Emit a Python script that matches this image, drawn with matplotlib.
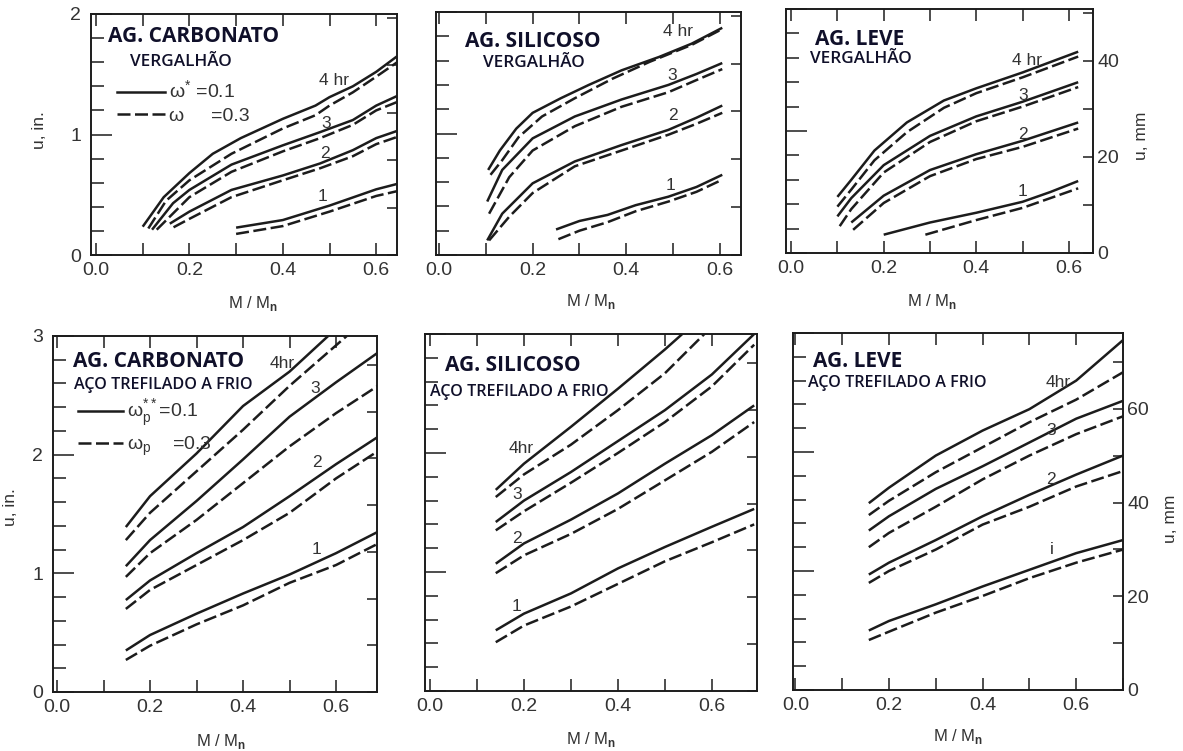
import matplotlib
matplotlib.use('Agg')
import matplotlib.pyplot as plt
from matplotlib.ticker import MultipleLocator, NullFormatter
from matplotlib.lines import Line2D

W, H = 1183, 751
MM_PER_IN = 25.4

# ---------------- data: deflection u (in.) vs M/Mn ----------------
# top row, reinforcing bars (vergalhão)
carb_bar_solid = {
    '4': ([0.10, 0.145, 0.20, 0.25, 0.31, 0.40, 0.47, 0.50, 0.55, 0.60, 0.645],
          [0.235, 0.48, 0.68, 0.84, 0.97, 1.13, 1.24, 1.31, 1.40, 1.52, 1.65]),
    '3': ([0.12, 0.165, 0.20, 0.29, 0.40, 0.48, 0.55, 0.60, 0.645],
          [0.21, 0.43, 0.54, 0.75, 0.91, 1.02, 1.12, 1.24, 1.32]),
    '2': ([0.158, 0.20, 0.29, 0.40, 0.48, 0.55, 0.60, 0.645],
          [0.26, 0.36, 0.54, 0.66, 0.76, 0.87, 0.97, 1.03]),
    '1': ([0.30, 0.40, 0.50, 0.60, 0.645],
          [0.227, 0.29, 0.41, 0.545, 0.59]),
}
carb_bar_dashed = {
    '4': ([0.112, 0.15, 0.20, 0.29, 0.40, 0.47, 0.50, 0.55, 0.60, 0.645],
          [0.22, 0.45, 0.62, 0.84, 1.05, 1.16, 1.24, 1.35, 1.48, 1.60]),
    '3': ([0.13, 0.20, 0.29, 0.40, 0.48, 0.55, 0.60, 0.645],
          [0.21, 0.48, 0.69, 0.86, 0.97, 1.08, 1.20, 1.27]),
    '2': ([0.166, 0.20, 0.29, 0.40, 0.48, 0.55, 0.60, 0.645],
          [0.23, 0.30, 0.48, 0.62, 0.72, 0.82, 0.92, 0.98]),
    '1': ([0.30, 0.40, 0.50, 0.60, 0.645],
          [0.175, 0.24, 0.36, 0.49, 0.53]),
}

sil_bar_solid = {
    '4': ([0.105, 0.13, 0.165, 0.20, 0.26, 0.32, 0.39, 0.47, 0.54, 0.605],
          [0.70, 0.86, 1.04, 1.17, 1.29, 1.40, 1.52, 1.63, 1.74, 1.87]),
    '3': ([0.103, 0.135, 0.20, 0.29, 0.39, 0.49, 0.55, 0.605],
          [0.44, 0.70, 0.96, 1.14, 1.28, 1.40, 1.49, 1.58]),
    '2': ([0.103, 0.135, 0.20, 0.29, 0.39, 0.49, 0.55, 0.605],
          [0.12, 0.34, 0.59, 0.77, 0.905, 1.03, 1.13, 1.23]),
    '1': ([0.25, 0.30, 0.36, 0.42, 0.49, 0.55, 0.605],
          [0.21, 0.28, 0.33, 0.41, 0.48, 0.56, 0.66]),
}
sil_bar_dashed = {
    '4': ([0.11, 0.135, 0.17, 0.22, 0.29, 0.37, 0.45, 0.54, 0.605],
          [0.66, 0.78, 0.97, 1.14, 1.29, 1.45, 1.59, 1.73, 1.86]),
    '3': ([0.107, 0.15, 0.20, 0.29, 0.39, 0.49, 0.55, 0.605],
          [0.34, 0.64, 0.86, 1.06, 1.22, 1.34, 1.44, 1.53]),
    '2': ([0.107, 0.15, 0.20, 0.29, 0.39, 0.49, 0.55, 0.605],
          [0.12, 0.315, 0.51, 0.73, 0.86, 0.99, 1.08, 1.17]),
    '1': ([0.255, 0.30, 0.36, 0.42, 0.49, 0.55, 0.605],
          [0.13, 0.20, 0.27, 0.36, 0.44, 0.52, 0.62]),
}

lev_bar_solid = {
    '4': ([0.10, 0.13, 0.18, 0.25, 0.33, 0.40, 0.50, 0.62],
          [0.46, 0.60, 0.84, 1.07, 1.25, 1.35, 1.48, 1.65]),
    '3': ([0.10, 0.13, 0.20, 0.30, 0.40, 0.50, 0.62],
          [0.30, 0.45, 0.72, 0.96, 1.12, 1.24, 1.40]),
    '2': ([0.13, 0.20, 0.30, 0.40, 0.50, 0.62],
          [0.25, 0.47, 0.68, 0.81, 0.92, 1.07]),
    '1': ([0.20, 0.30, 0.40, 0.50, 0.56, 0.62],
          [0.15, 0.25, 0.33, 0.42, 0.50, 0.59]),
}
lev_bar_dashed = {
    '4': ([0.10, 0.13, 0.18, 0.25, 0.33, 0.40, 0.50, 0.62],
          [0.38, 0.52, 0.76, 0.99, 1.19, 1.31, 1.44, 1.61]),
    '3': ([0.105, 0.13, 0.20, 0.30, 0.40, 0.50, 0.62],
          [0.22, 0.36, 0.66, 0.91, 1.08, 1.20, 1.36]),
    '2': ([0.134, 0.20, 0.30, 0.40, 0.50, 0.62],
          [0.19, 0.41, 0.63, 0.77, 0.87, 1.02]),
    '1': ([0.29, 0.40, 0.50, 0.56, 0.62],
          [0.15, 0.27, 0.37, 0.45, 0.53]),
}

# bottom row, cold-drawn prestressing steel (aço trefilado a frio)
mn_grid = [0.148, 0.20, 0.30, 0.40, 0.50, 0.60, 0.69]

carb_wire_solid = {
    '4': ([0.148, 0.20, 0.30, 0.40, 0.50, 0.583], [1.39, 1.65, 2.01, 2.41, 2.70, 3.00]),
    '3': (mn_grid, [1.06, 1.28, 1.61, 1.96, 2.32, 2.61, 2.86]),
    '2': (mn_grid, [0.775, 0.94, 1.17, 1.39, 1.65, 1.92, 2.15]),
    '1': (mn_grid, [0.35, 0.48, 0.66, 0.83, 0.99, 1.17, 1.35]),
}
carb_wire_dashed = {
    '4': ([0.148, 0.20, 0.30, 0.40, 0.50, 0.623], [1.28, 1.51, 1.86, 2.21, 2.58, 3.00]),
    '3': (mn_grid, [0.97, 1.17, 1.45, 1.76, 2.07, 2.35, 2.58]),
    '2': (mn_grid, [0.70, 0.86, 1.07, 1.28, 1.51, 1.80, 2.03]),
    '1': (mn_grid, [0.27, 0.39, 0.57, 0.73, 0.92, 1.07, 1.25]),
}

sil_grid = [0.14, 0.20, 0.30, 0.40, 0.50, 0.60, 0.69]

sil_wire_solid = {
    '4': ([0.14, 0.20, 0.30, 0.40, 0.50, 0.537], [1.69, 1.91, 2.22, 2.54, 2.87, 3.00]),
    '3': (sil_grid, [1.42, 1.60, 1.84, 2.10, 2.36, 2.66, 3.00]),
    '2': (sil_grid, [1.07, 1.24, 1.44, 1.66, 1.91, 2.15, 2.40]),
    '1': (sil_grid, [0.51, 0.65, 0.82, 1.03, 1.21, 1.38, 1.53]),
}
sil_wire_dashed = {
    '4': ([0.14, 0.20, 0.30, 0.40, 0.50, 0.584], [1.63, 1.82, 2.07, 2.36, 2.67, 3.00]),
    '3': (sil_grid, [1.35, 1.51, 1.75, 2.00, 2.26, 2.56, 2.91]),
    '2': (sil_grid, [0.99, 1.14, 1.32, 1.53, 1.77, 2.01, 2.26]),
    '1': (sil_grid, [0.41, 0.55, 0.71, 0.90, 1.09, 1.25, 1.40]),
}

lev_grid = [0.157, 0.20, 0.30, 0.40, 0.50, 0.60, 0.70]

lev_wire_solid = {
    '4': (lev_grid, [1.57, 1.70, 1.97, 2.18, 2.36, 2.60, 2.94]),
    '3': (lev_grid, [1.34, 1.46, 1.69, 1.88, 2.08, 2.28, 2.43]),
    '2': (lev_grid, [0.97, 1.07, 1.26, 1.46, 1.64, 1.81, 1.97]),
    '1': (lev_grid, [0.50, 0.58, 0.72, 0.87, 1.01, 1.15, 1.26]),
}
lev_wire_dashed = {
    '4': (lev_grid, [1.47, 1.59, 1.83, 2.04, 2.25, 2.44, 2.67]),
    '3': (lev_grid, [1.20, 1.32, 1.54, 1.77, 1.97, 2.15, 2.30]),
    '2': (lev_grid, [0.90, 1.00, 1.18, 1.39, 1.54, 1.71, 1.84]),
    '1': (lev_grid, [0.42, 0.49, 0.65, 0.79, 0.94, 1.07, 1.18]),
}

# curve labels (text, x, y) in data units
carb_bar_labels = [('4 hr', 0.51, 1.45), ('3', 0.493, 1.09), ('2', 0.49, 0.845), ('1', 0.485, 0.485)]
sil_bar_labels = [('4 hr', 0.511, 1.84), ('3', 0.497, 1.48), ('2', 0.499, 1.15), ('1', 0.495, 0.57)]
lev_bar_labels = [('4 hr', 0.51, 1.58), ('3', 0.501, 1.29), ('2', 0.501, 0.97), ('1', 0.50, 0.505)]
carb_wire_labels = [('4hr', 0.485, 2.77), ('3', 0.555, 2.56), ('2', 0.558, 1.93), ('1', 0.558, 1.20)]
sil_wire_labels = [('4hr', 0.195, 2.04), ('3', 0.185, 1.65), ('2', 0.185, 1.28), ('1', 0.185, 0.71)]
lev_wire_labels = [('4hr', 0.561, 2.58), ('3', 0.547, 2.18), ('2', 0.547, 1.77), ('i', 0.547, 1.18)]

# ---------------- style ----------------
INK = '#1c1c1c'
TXT = '#333333'
TITLE_C = '#10102a'
FONT = ['Liberation Sans', 'DejaVu Sans']
TFONT = ['Open Sans', 'DejaVu Sans']
LW = 1.8
DASH = (0, (5.2, 1.8))

plt.rcParams['font.family'] = FONT
plt.rcParams['mathtext.fontset'] = 'custom'
plt.rcParams['mathtext.rm'] = 'Liberation Sans'
plt.rcParams['mathtext.bf'] = 'Liberation Sans:bold'


def px_rect(l, t, r, b):
    return [l / W, 1 - b / H, (r - l) / W, (b - t) / H]


panels = [
    dict(solid=carb_bar_solid, dashed=carb_bar_dashed, labels=carb_bar_labels,
         rect=px_rect(91, 14, 397, 255), xlim=(-0.0107, 0.6445), ytop=2,
         title='AG. CARBONATO', sub='VERGALHÃO', tpos=(0.056, 0.905), spos=(0.127, 0.80), subsize=12.3,
         left=True, right=False, xlab=(0.53, -0.20), ylab=-0.144,
         legend=('ω$^{\\mathregular{*}}$ =0.1', 'ω     =0.3'), lpos=(0.084, 0.633), hlen=2.5),
    dict(solid=sil_bar_solid, dashed=sil_bar_dashed, labels=sil_bar_labels,
         rect=px_rect(436, 12, 741, 255), xlim=(-0.0064, 0.645), ytop=2,
         title='AG. SILICOSO', sub='VERGALHÃO', tpos=(0.095, 0.877), spos=(0.154, 0.79), subsize=12.3,
         left=False, right=False, xlab=(0.51, -0.19)),
    dict(solid=lev_bar_solid, dashed=lev_bar_dashed, labels=lev_bar_labels,
         rect=px_rect(786, 9, 1093, 253), xlim=(-0.011, 0.652), ytop=2,
         title='AG. LEVE', sub='VERGALHÃO', tpos=(0.094, 0.877), spos=(0.078, 0.795), subsize=12.3,
         left=False, right=True, xlab=(0.475, -0.20), rlab=1.135),
    dict(solid=carb_wire_solid, dashed=carb_wire_dashed, labels=carb_wire_labels,
         rect=px_rect(53, 336, 377, 692), xlim=(-0.0086, 0.688), ytop=3,
         title='AG. CARBONATO', sub='AÇO TREFILADO A FRIO', tpos=(0.062, 0.927), spos=(0.065, 0.862),
         subsize=11.6, left=True, right=False, xlab=(0.52, -0.14), ylab=-0.108,
         legend=('ω$_{\\mathregular{p}}^{\\mathregular{**}}$=0.1', 'ω$_{\\mathregular{p}}$    =0.3'),
         lpos=(0.077, 0.742), hlen=2.3),
    dict(solid=sil_wire_solid, dashed=sil_wire_dashed, labels=sil_wire_labels,
         rect=px_rect(425, 334, 757, 691), xlim=(-0.0106, 0.696), ytop=3,
         title='AG. SILICOSO', sub='AÇO TREFILADO A FRIO', tpos=(0.06, 0.913), spos=(0.015, 0.838),
         subsize=11.6, left=False, right=False, xlab=(0.50, -0.137)),
    dict(solid=lev_wire_solid, dashed=lev_wire_dashed, labels=lev_wire_labels,
         rect=px_rect(793, 333, 1123, 690), xlim=(-0.005, 0.70), ytop=3,
         title='AG. LEVE', sub='AÇO TREFILADO A FRIO', tpos=(0.06, 0.919), spos=(0.045, 0.86),
         subsize=11.6, left=False, right=True, xlab=(0.50, -0.13), rlab=1.12),
]

fig = plt.figure(figsize=(W / 100, H / 100), dpi=100)

for p in panels:
    ax = fig.add_axes(p['rect'])
    for key, (xs, ys) in p['solid'].items():
        ax.plot(xs, ys, color=INK, lw=LW, solid_capstyle='butt', solid_joinstyle='round')
    for key, (xs, ys) in p['dashed'].items():
        ax.plot(xs, ys, color=INK, lw=LW, linestyle=DASH, dash_capstyle='butt')

    ax.set_xlim(*p['xlim'])
    ax.set_ylim(0, p['ytop'])

    ax.xaxis.set_major_locator(MultipleLocator(0.2))
    ax.xaxis.set_minor_locator(MultipleLocator(0.1))
    ax.xaxis.set_major_formatter(lambda v, pos: f'{v:.1f}')
    ax.tick_params(axis='x', which='both', direction='in', top=True, length=8.5,
                   width=1.1, color=INK, labelsize=14, labelcolor=TXT, pad=5)

    ax.yaxis.set_major_locator(MultipleLocator(1))
    ax.yaxis.set_minor_locator(MultipleLocator(0.2))
    ax.yaxis.set_major_formatter(lambda v, pos: f'{v:.0f}')
    ax.tick_params(axis='y', which='major', direction='in', length=15, width=1.1,
                   color=INK, labelsize=14, labelcolor=TXT, pad=7, right=False)
    ax.tick_params(axis='y', which='minor', direction='in', length=9.5, width=1.1,
                   color=INK, right=False)
    if not p['left']:
        ax.yaxis.set_major_formatter(NullFormatter())
    else:
        ax.set_ylabel('u, in.', fontsize=12.5, color=TXT)
        ax.yaxis.set_label_coords(p['ylab'], 0.52)

    for s in ax.spines.values():
        s.set_linewidth(1.4)
        s.set_color(INK)

    ax2 = ax.twinx()
    ax2.set_ylim(0, p['ytop'] * MM_PER_IN)
    ax2.yaxis.set_major_locator(MultipleLocator(20))
    ax2.yaxis.set_minor_locator(MultipleLocator(10))
    ax2.tick_params(axis='y', which='both', direction='in', length=7.5, width=1.1,
                    color=INK, labelsize=14, labelcolor=TXT, pad=3)
    for s in ax2.spines.values():
        s.set_visible(False)
    if p['right']:
        ax2.set_ylabel('u, mm', fontsize=12.5, color=TXT)
        ax2.yaxis.set_label_coords(p['rlab'], 0.48)
    else:
        ax2.yaxis.set_major_formatter(NullFormatter())

    ax.set_xlabel('M / M$_{\\mathbf{n}}$', fontsize=12, color=TXT)
    ax.xaxis.label.set_va('center')
    ax.xaxis.set_label_coords(*p['xlab'])

    for txt, lx, ly in p['labels']:
        ax.text(lx, ly, txt, fontsize=12.5, color=TXT, ha='center', va='center')

    ax.text(p['tpos'][0], p['tpos'][1], p['title'], transform=ax.transAxes,
            fontsize=15, fontweight='bold', family=TFONT, color=TITLE_C,
            ha='left', va='center')
    ax.text(p['spos'][0], p['spos'][1], p['sub'], transform=ax.transAxes,
            fontsize=p['subsize'], fontweight='semibold', family=TFONT, color=TITLE_C,
            ha='left', va='center')

    if 'legend' in p:
        handles = [Line2D([], [], color=INK, lw=LW),
                   Line2D([], [], color=INK, lw=LW, linestyle=DASH)]
        leg = ax.legend(handles, p['legend'], loc='center left',
                        bbox_to_anchor=p['lpos'], frameon=False, fontsize=14,
                        handlelength=p['hlen'], handletextpad=0.2,
                        borderpad=0, borderaxespad=0, labelspacing=0.25)
        for t in leg.get_texts():
            t.set_color(TXT)

fig.savefig('out.png', dpi=100)
